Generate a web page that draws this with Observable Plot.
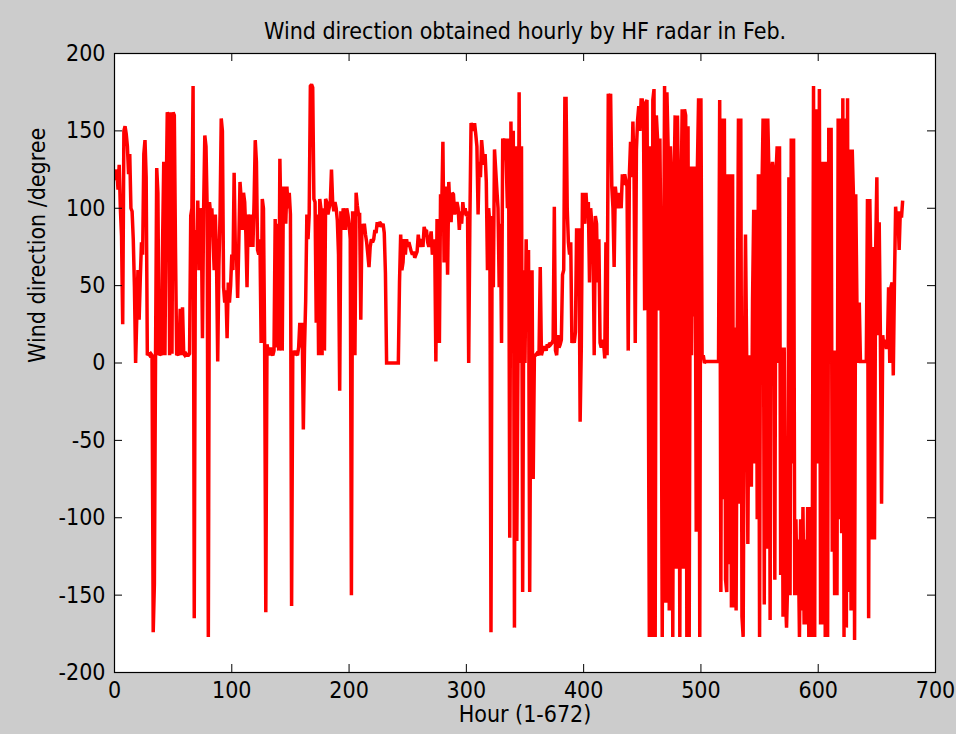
<!DOCTYPE html>
<html><head><meta charset="utf-8">
<script src="https://cdn.jsdelivr.net/npm/d3@7"></script>
<script src="https://cdn.jsdelivr.net/npm/@observablehq/plot@0.6"></script>
<style>
html,body{margin:0;padding:0;background:#cccccc;}
#chart{width:956px;height:734px;}
</style></head><body><div id="chart"></div>
<script>
const title = "Wind direction obtained hourly by HF radar in Feb.";
const xLabel = "Hour (1-672)";
const yLabel = "Wind direction /degree";
const xTicks = [0, 100, 200, 300, 400, 500, 600, 700];
const yTicks = [-200, -150, -100, -50, 0, 50, 100, 150, 200];

// Wind direction (degree), one value per hour
const dir001_088 = [118,125,112,128,100,82,25,150,153,148,
140,122,135,100,98,80,49,0,30,60,
28,55,78,70,135,144,120,5,6,5,
6,5,-174,-143,6,126,110,5,6,5,
78,130,5,104,162,160,5,162,6,162,
160,74,5,6,5,35,5,36,6,5,
6,5,5,6,95,100,179,-165,86,65,
105,60,100,95,16,100,147,140,100,-177,
104,96,100,80,60,96,65,1];
const dir089_176 = [62,96,158,150,49,39,47,16,52,39,
50,70,60,123,75,70,42,78,117,106,
86,110,104,83,49,96,90,75,96,75,
104,144,130,73,70,80,13,106,100,12,
-161,12,8,5,10,6,5,8,93,10,
90,8,132,86,8,114,100,90,114,100,
110,96,-157,8,5,8,6,5,10,26,
10,26,-43,10,40,96,80,96,179,180,
178,106,104,26,96,5,106,100];
const dir177_268 = [5,100,8,106,104,96,100,104,125,104,
98,104,100,92,70,-18,98,86,100,95,
86,100,96,90,80,-150,98,95,5,110,
102,96,96,28,90,85,90,83,78,70,
62,75,80,78,80,86,84,91,88,91,
90,88,90,84,58,0,0,0,0,0,
0,0,0,0,0,0,52,83,60,65,
80,70,80,75,78,75,72,70,72,68,
70,72,83,75,80,78,75,88,85,86,
78,75];
const dir269_356 = [80,85,70,75,80,1,93,90,13,109,
100,143,65,114,100,57,117,100,91,110,
109,96,100,104,100,86,98,90,104,96,
100,95,98,0,92,155,153,150,155,148,
140,96,130,120,144,135,128,135,117,60,
100,90,-174,95,49,138,125,112,100,49,
90,13,145,140,145,130,100,145,-113,156,
80,150,-171,140,-115,0,175,0,140,-148,
60,0,80,20,73,-148,8,60];
const dir357_444 = [-75,5,5,6,5,8,62,5,8,10,
10,8,12,10,13,12,13,15,101,8,
5,18,10,12,15,57,60,171,171,100,
78,70,78,13,18,13,20,87,80,87,
-38,10,110,96,90,110,96,104,52,100,
90,85,5,95,90,52,80,13,10,15,
13,3,78,5,174,170,174,114,100,62,
114,106,100,110,106,100,122,115,122,118,
114,8,122,143,120,156,122,13];
const dir445_536 = [138,157,166,150,170,170,165,34,168,170,
34,-177,140,-177,170,177,-177,160,145,34,
145,60,-177,20,179,-155,175,140,-160,140,
112,-177,112,160,-133,160,101,-177,101,164,
-133,164,160,-177,153,-177,127,5,127,30,
127,-109,127,171,-177,171,3,5,0,1,
1,1,1,1,1,1,1,1,1,1,
1,170,-148,158,-88,158,-140,-148,122,-130,
122,-158,122,-158,23,-160,23,158,-91,158,
-164,-177];
const dir537_624 = [-5,83,5,-117,5,0,-80,40,99,-65,
99,-101,122,-177,122,110,158,-156,158,-120,
158,122,-166,122,130,122,-140,122,140,0,
140,-137,10,-164,10,-150,-171,-140,120,-150,
145,-65,145,-150,-101,-150,-114,-177,-101,-160,
-93,-169,-114,-169,-93,-177,-93,-177,-110,179,
-177,164,143,-65,177,-169,130,-169,130,-177,
130,-177,152,8,152,-122,8,-150,8,-150,
158,-101,158,-110,171,-177,158,-171];
const dir625_672 = [171,-148,138,-160,138,109,-179,109,39,0,
39,1,1,1,1,1,1,106,-165,106,
55,-114,75,-114,75,120,18,91,18,-91,
18,10,15,10,10,49,0,49,52,-8,
52,101,88,98,73,98,94,105];

const degrees = [].concat(dir001_088, dir089_176, dir177_268, dir269_356,
  dir357_444, dir445_536, dir537_624, dir625_672);
const data = degrees.map((v, i) => ({hour: i + 1, deg: v}));

const W = 956, H = 734, mt = 53, mb = 62, ml = 114, mr = 21;
const fh = H - mt - mb, fw = W - ml - mr, tk = 8;
const font = "'Liberation Sans Narrow','DejaVu Sans Condensed','Liberation Sans',Arial,sans-serif";
const fs = 23;

const chart = Plot.plot({
  width: W, height: H,
  marginTop: mt, marginBottom: mb, marginLeft: ml, marginRight: mr,
  style: {background: "#cccccc", fontFamily: font, fontSize: fs + "px", color: "black"},
  x: {domain: [0, 700]},
  y: {domain: [-200, 200]},
  marks: [
    Plot.frame({fill: "white", stroke: null}),
    Plot.line(data, {x: "hour", y: "deg", stroke: "#ff0000", strokeWidth: 3.5,
      strokeLinejoin: "miter", strokeLinecap: "butt", strokeMiterlimit: 2}),
    Plot.tickX(xTicks, {x: d => d, insetTop: fh - tk, stroke: "black"}),
    Plot.tickX(xTicks, {x: d => d, insetBottom: fh - tk, stroke: "black"}),
    Plot.tickY(yTicks, {y: d => d, insetRight: fw - tk, stroke: "black"}),
    Plot.tickY(yTicks, {y: d => d, insetLeft: fw - tk, stroke: "black"}),
    Plot.frame({stroke: "black", strokeWidth: 1.2}),
    Plot.axisX({ticks: xTicks, tickSize: 0, tickPadding: 9, tickFormat: d => String(d), label: null, fontSize: fs}),
    Plot.axisY({ticks: yTicks, tickSize: 0, tickPadding: 9, tickFormat: d => String(d), label: null, fontSize: fs}),
    Plot.text([title], {text: d => d, frameAnchor: "top", dy: -31, fontSize: fs, fill: "black"}),
    Plot.text([xLabel], {text: d => d, frameAnchor: "bottom", dy: 49, fontSize: fs, fill: "black"}),
    Plot.text([yLabel], {text: d => d, frameAnchor: "left", dx: -77, rotate: -90, fontSize: fs, fill: "black"})
  ]
});
document.getElementById("chart").appendChild(chart);
</script>
</body></html>
